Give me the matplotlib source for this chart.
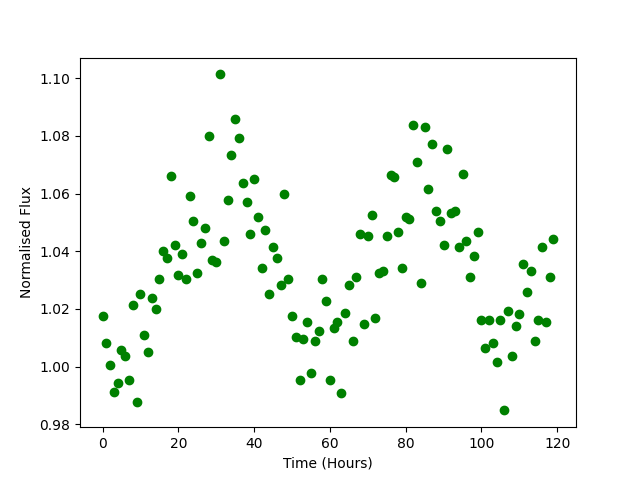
import matplotlib
matplotlib.use("Agg")
import matplotlib.pyplot as plt

# Observation times (hours)
time_hours = list(range(120))

# Normalised flux
flux = [
    1.0177, 1.0080, 1.0007, 0.9913, 0.9942, 1.0059, 1.0038, 0.9955, 1.0215, 0.9876,
    1.0250, 1.0111, 1.0052, 1.0236, 1.0198, 1.0302, 1.0400, 1.0377, 1.0659, 1.0423,
    1.0319, 1.0392, 1.0302, 1.0593, 1.0503, 1.0326, 1.0430, 1.0479, 1.0798, 1.0369,
    1.0364, 1.1013, 1.0434, 1.0579, 1.0732, 1.0860, 1.0794, 1.0635, 1.0569, 1.0461,
    1.0650, 1.0520, 1.0343, 1.0475, 1.0253, 1.0413, 1.0375, 1.0284, 1.0600, 1.0302,
    1.0174, 1.0104, 0.9952, 1.0094, 1.0156, 0.9976, 1.0087, 1.0125, 1.0302, 1.0226,
    0.9952, 1.0132, 1.0153, 0.9910, 1.0187, 1.0284, 1.0090, 1.0312, 1.0458, 1.0146,
    1.0451, 1.0527, 1.0170, 1.0326, 1.0333, 1.0451, 1.0663, 1.0656, 1.0468, 1.0343,
    1.0517, 1.0513, 1.0839, 1.0708, 1.0291, 1.0829, 1.0614, 1.0770, 1.0541, 1.0503,
    1.0420, 1.0753, 1.0531, 1.0541, 1.0413, 1.0666, 1.0437, 1.0309, 1.0385, 1.0468,
    1.0163, 1.0066, 1.0160, 1.0080, 1.0017, 1.0160, 0.9848, 1.0194, 1.0035, 1.0139,
    1.0181, 1.0354, 1.0257, 1.0333, 1.0087, 1.0163, 1.0416, 1.0153, 1.0312, 1.0444,
]

plt.figure(figsize=(6.4, 4.8), dpi=100)
plt.plot(time_hours, flux, "go")

plt.xlabel("Time (Hours)")
plt.ylabel("Normalised Flux")

plt.savefig("out.png")
